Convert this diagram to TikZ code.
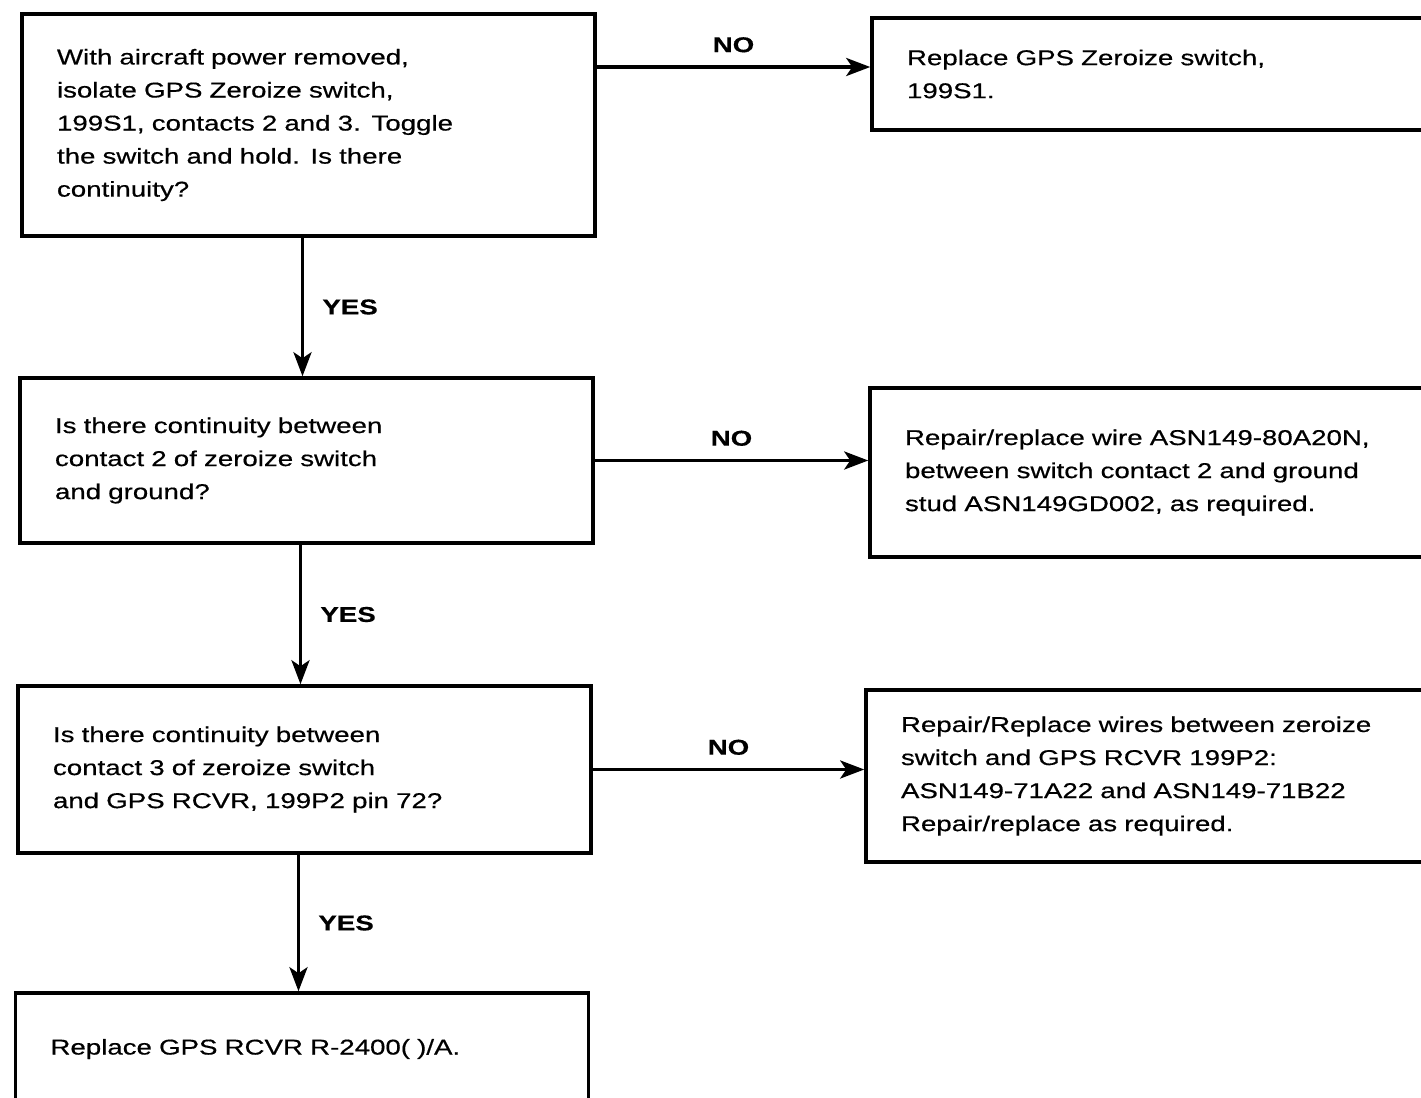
\documentclass[tikz,border=0pt]{standalone}
\usepackage{fontspec}
\setmainfont{Liberation Sans}[FakeStretch=1.29, FakeBold=0.5]
\usetikzlibrary{arrows.meta,positioning}
\tikzset{
    chart/.style  = {>={Stealth[length=4.8mm, width=3.6mm, inset=1.2mm]}},
    line/.style   = {line width=2pt},
    box/.style    = {draw, line width=2pt, minimum width=11.46cm,
                     text width=10.06cm, inner xsep=0.7cm, align=left,
                     font=\fontsize{12.2}{18.8}\selectfont},
    answer/.style = {font=\fontsize{12.2}{14}\selectfont\bfseries}
}

\begin{document}
\begin{tikzpicture}[chart]

\clip (0,0) rectangle (28.42,-21.96);

% ================= Question column =================
\node[box, minimum height=4.44cm] (q1) at (6.17, -2.50)
    {With aircraft power removed,\\
     isolate GPS Zeroize switch,\\
     199S1, contacts 2 and 3.  Toggle\\
     the switch and hold.  Is there\\
     continuity?};
\node[box, minimum height=3.30cm] (q2) at (6.13, -9.21)
    {Is there continuity between\\
     contact 2 of zeroize switch\\
     and ground?};
\node[box, minimum height=3.34cm] (q3) at (6.09, -15.39)
    {Is there continuity between\\
     contact 3 of zeroize switch\\
     and GPS RCVR, 199P2 pin 72?};
\node[box, minimum height=2.24cm] (rcvr) at (6.04, -20.98)
    {Replace GPS RCVR R-2400( )/A.};

% ================= Repair column =================
\node[box, minimum height=2.24cm] (fix1) at (23.17, -1.48)
    {Replace GPS Zeroize switch,\\
     199S1.};
\node[box, minimum height=3.38cm] (fix2) at (23.13, -9.45)
    {Repair/replace wire ASN149-80A20N,\\
     between switch contact 2 and ground\\
     stud ASN149GD002, as required.};
\node[box, minimum height=3.44cm] (fix3) at (23.05, -15.52)
    {Repair/Replace wires between zeroize\\
     switch and GPS RCVR 199P2:\\
     ASN149-71A22 and ASN149-71B22\\
     Repair/replace as required.};

% ================= NO branches =================
\draw[->, line] ([yshift=1.4mm]fix1.west -| q1.east) -- ([yshift=1.4mm]fix1.west)
    node[answer, midway, above=4pt] {NO};
\draw[->, line] (q2.east) -- (q2.east -| fix2.west)
    node[answer, midway, above=4pt] {NO};
\draw[->, line] (q3.east) -- (q3.east -| fix3.west)
    node[answer, midway, above=4pt] {NO};

% ================= YES branches =================
\draw[->, line] ([xshift=-1.2mm]q1.south) -- ([xshift=-1.2mm]q1.south |- q2.north)
    node[answer, midway, right=7pt] {YES};
\draw[->, line] ([xshift=-1.2mm]q2.south) -- ([xshift=-1.2mm]q2.south |- q3.north)
    node[answer, midway, right=7pt] {YES};
\draw[->, line] ([xshift=-1.2mm]q3.south) -- ([xshift=-1.2mm]q3.south |- rcvr.north)
    node[answer, midway, right=7pt] {YES};

\end{tikzpicture}
\end{document}
